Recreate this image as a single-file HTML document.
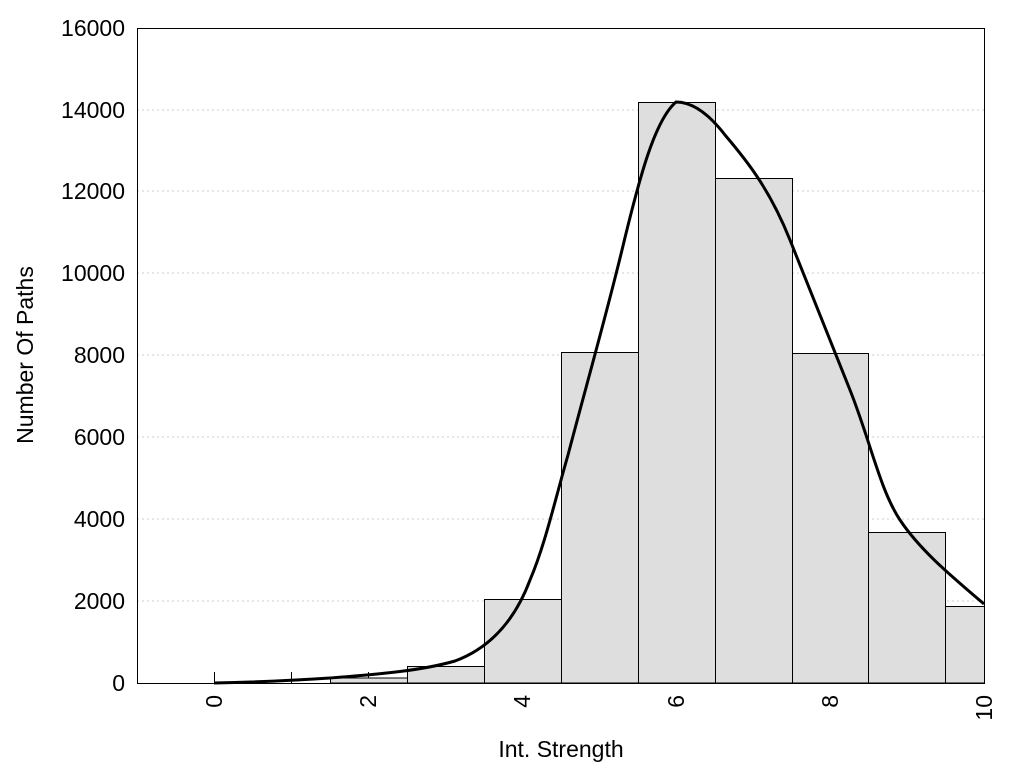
<!DOCTYPE html>
<html><head><style>body{margin:0;background:#fff}</style></head><body>
<svg width="1024" height="768" xmlns="http://www.w3.org/2000/svg" font-family="Liberation Sans, sans-serif">
<rect width="1024" height="768" fill="#fff"/>
<g stroke="#ccc" stroke-dasharray="2,3" stroke-width="1">
<line x1="137" x2="984" y1="601" y2="601"/><line x1="137" x2="984" y1="519" y2="519"/>
<line x1="137" x2="984" y1="437" y2="437"/><line x1="137" x2="984" y1="355" y2="355"/>
<line x1="137" x2="984" y1="273" y2="273"/><line x1="137" x2="984" y1="191" y2="191"/>
<line x1="137" x2="984" y1="110" y2="110"/>
</g>
<g stroke="#000" stroke-width="1">
<line x1="214.5" y1="672" x2="214.5" y2="683"/><line x1="291.5" y1="672" x2="291.5" y2="683"/><line x1="368.5" y1="672" x2="368.5" y2="683"/>
</g>
<g fill="#dedede" stroke="#000" stroke-width="1">
<rect x="330.5" y="678" width="77" height="5"/>
<rect x="407.5" y="666.5" width="77" height="16.5"/>
<rect x="484.5" y="599.5" width="77" height="83.5"/>
<rect x="561.5" y="352.5" width="77" height="330.5"/>
<rect x="638.5" y="102.5" width="77" height="580.5"/>
<rect x="715.5" y="178.5" width="77" height="504.5"/>
<rect x="792.5" y="353.5" width="76" height="329.5"/>
<rect x="868.5" y="532.5" width="77" height="150.5"/>
<rect x="945.5" y="606.5" width="39" height="76.5"/>
</g>
<path d="M214,683 C260,682 300,680 330,678 C380,674 420,671 455,661 C490,648 515,620 530,580 C545,545 555,500 568,455 C585,390 605,320 622,250 C640,175 655,120 676,102 C695,102 712,118 725,135 C748,162 770,190 790,240 C810,290 830,340 850,390 C870,440 880,490 900,520 C920,550 950,575 984,604" fill="none" stroke="#000" stroke-width="3"/>
<rect x="137.5" y="28.5" width="847" height="655" fill="none" stroke="#000" stroke-width="1"/>
<g font-size="23" text-anchor="end" fill="#000">
<text x="125" y="691">0</text><text x="125" y="609">2000</text><text x="125" y="527">4000</text>
<text x="125" y="445">6000</text><text x="125" y="363">8000</text><text x="125" y="281">10000</text>
<text x="125" y="199">12000</text><text x="125" y="118">14000</text><text x="125" y="36">16000</text>
</g>
<g font-size="23" text-anchor="end" fill="#000">
<text transform="translate(222,695) rotate(-90)">0</text>
<text transform="translate(376,695) rotate(-90)">2</text>
<text transform="translate(530,695) rotate(-90)">4</text>
<text transform="translate(684,695) rotate(-90)">6</text>
<text transform="translate(838,695) rotate(-90)">8</text>
<text transform="translate(992,695) rotate(-90)">10</text>
</g>
<text x="561" y="757" font-size="23" text-anchor="middle">Int. Strength</text>
<text transform="translate(33,355) rotate(-90)" font-size="23" text-anchor="middle">Number Of Paths</text>
</svg>
</body></html>
